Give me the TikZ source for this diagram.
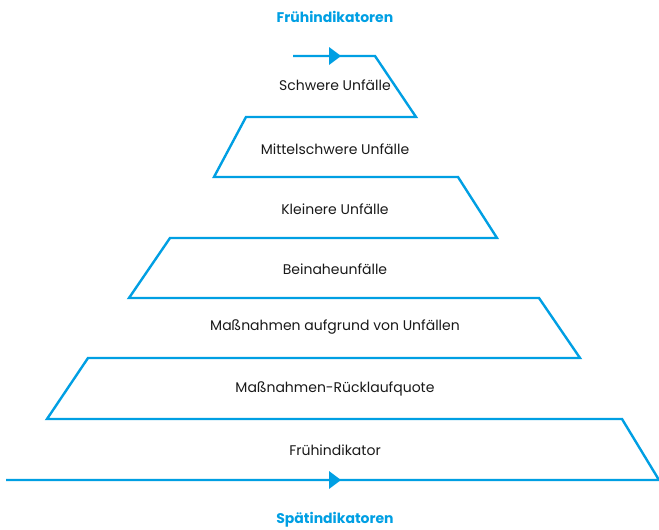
\documentclass[tikz,border=0pt]{standalone}
\usepackage{fontspec}
\setmainfont{Poppins}
\usetikzlibrary{arrows.meta}
\definecolor{pblue}{RGB}{0,159,227}
\tikzset{
  zig/.style={draw=pblue, line width=2.4pt, line join=miter},
  lbl/.style={font=\fontsize{14}{16}\selectfont, text=black!90, inner sep=0pt},
  ttl/.style={font=\fontsize{14}{16}\selectfont\bfseries, text=pblue, inner sep=0pt}
}
\begin{document}
\begin{tikzpicture}[x=1pt,y=-1pt]
\useasboundingbox (0,0) rectangle (659,530);
\coordinate (p0) at (293,56);
\coordinate (p1) at (375,56);
\coordinate (p2) at (416,117);
\coordinate (p3) at (246,117);
\coordinate (p4) at (214,177);
\coordinate (p5) at (458,177);
\coordinate (p6) at (497,238);
\coordinate (p7) at (170,238);
\coordinate (p8) at (129,298);
\coordinate (p9) at (539,298);
\coordinate (p10) at (580,358);
\coordinate (p11) at (88,358);
\coordinate (p12) at (47,419);
\coordinate (p13) at (622,419);
\coordinate (p14) at (659,480);
\coordinate (p15) at (6,480);
\coordinate (am) at (341,56);
\coordinate (bm) at (341,480);
\draw[zig] (p0) -- (p1) -- (p2) -- (p3) -- (p4) -- (p5) -- (p6) -- (p7) -- (p8)
  -- (p9) -- (p10) -- (p11) -- (p12) -- (p13) -- (p14) -- (p15);
\fill[pblue] (am) -- ++(-12,-9) -- ++(0,18) -- cycle;
\fill[pblue] (bm) -- ++(-12,-9) -- ++(0,18) -- cycle;
\node[ttl] (t1) at (335,17) {Frühindikatoren};
\node[ttl] (t2) at (335,520) {Spätindikatoren};
\node[lbl] (l1) at (335,85) {Schwere Unfälle};
\node[lbl] (l2) at (335,149) {Mittelschwere Unfälle};
\node[lbl] (l3) at (335,209) {Kleinere Unfälle};
\node[lbl] (l4) at (335,269) {Beinaheunfälle};
\node[lbl] (l5) at (335,327) {Maßnahmen aufgrund von Unfällen};
\node[lbl] (l6) at (335,389) {Maßnahmen-Rücklaufquote};
\node[lbl] (l7) at (335,450) {Frühindikator};
\end{tikzpicture}
\end{document}
